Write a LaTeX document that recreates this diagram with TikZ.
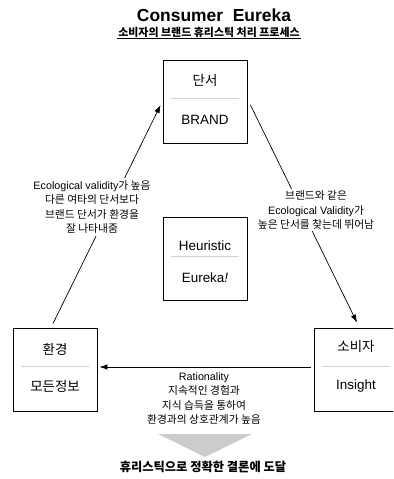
\documentclass[tikz,border=0pt]{standalone}
\usepackage{fontspec}
\setmainfont{Liberation Sans}
\newfontfamily\ko{Noto Sans CJK KR}
\usetikzlibrary{arrows.meta,calc}
\tikzset{
  box/.style={draw, line width=0.9bp, minimum width=84bp, minimum height=83bp, inner sep=0pt, fill=white},
  sepline/.style={draw=gray!35, line width=0.8bp},
  boxtxt/.style={font=\fontsize{13.5}{15}\selectfont, inner sep=0pt},
  lbl/.style={font=\fontsize{10.8}{14.5}\selectfont, align=center, fill=white, inner sep=2bp},
  arr/.style={-{Latex[length=8bp,width=5.5bp]}, line width=0.7bp},
}
\begin{document}
\begin{tikzpicture}[x=1bp,y=-1bp]
\useasboundingbox (0,0) rectangle (393,479);
\clip (0,0) rectangle (393,479);
% title
\node[font=\fontsize{17.5}{19}\selectfont\bfseries, inner sep=0pt] (title) at (214,15) {Consumer\ \ Eureka};
\node[font=\fontsize{11}{12}\selectfont\bfseries, inner sep=1pt] (sub) at (209,32) {\ko 소비자의 브랜드 휴리스틱 처리 프로세스};
\draw[line width=0.6bp] (sub.south west) -- (sub.south east);
% boxes
\node[box] (brand) at (205,101.5) {};
\node[box] (heur) at (205,258.5) {};
\node[box] (env) at (55,369.5) {};
\node[box] (cons) at (356,369.5) {};
% box contents
\node[boxtxt] (brandT) at ($(brand.north)+(0,21)$) {\ko 단서};
\node[boxtxt] (brandB) at ($(brand.north)+(0,60)$) {BRAND};
\draw[sepline] ($(brand.north west)+(8,39)$) -- ($(brand.north east)+(-8,39)$);
\node[boxtxt] (heurT) at ($(heur.north)+(0,29)$) {Heuristic};
\node[boxtxt] (heurB) at ($(heur.north)+(0,61)$) {Eureka\textit{!}};
\draw[sepline] ($(heur.north west)+(8,40)$) -- ($(heur.north east)+(-8,40)$);
\node[boxtxt] (envT) at ($(env.north)+(0,22)$) {\ko 환경};
\node[boxtxt] (envB) at ($(env.north)+(0,59)$) {\ko 모든정보};
\draw[sepline] ($(env.north west)+(8,39)$) -- ($(env.north east)+(-8,39)$);
\node[boxtxt] (consT) at ($(cons.north)+(0,19)$) {\ko 소비자};
\node[boxtxt] (consB) at ($(cons.north)+(0,58)$) {Insight};
\draw[sepline] ($(cons.north west)+(8,39)$) -- ($(cons.north east)+(-8,39)$);
% connectors
\draw[arr] ([xshift=-2bp,yshift=4bp]env.north) -- ([xshift=-2bp,yshift=-3.5bp]brand.west);
\draw[arr] ([xshift=3bp,yshift=-3.5bp]brand.east) -- ([xshift=1bp,yshift=5bp]cons.north);
\draw[arr] ([xshift=-3bp,yshift=2.5bp]cons.west) -- ([xshift=2bp,yshift=2.5bp]env.east);
% labels
\node[lbl] (lblL) at (92,207) {Ecological validity{\ko 가 높음}\\{\ko 다른 여타의 단서보다}\\{\ko 브랜드 단서가 환경을}\\{\ko 잘 나타내줌}};
\node[lbl] (lblR) at (316,210) {{\ko 브랜드와 같은}\\Ecological Validity{\ko 가}\\{\ko 높은 단서를 찾는데 뛰어남}};
\node[lbl, fill=none] (lblB) at (204,398.5) {Rationality\\{\ko 지속적인 경험과}\\{\ko 지식 습득을 통하여}\\{\ko 환경과의 상호관계가 높음}};
% triangle and conclusion
\fill[gray!40] (158,434) -- (252,434) -- (205,457) -- cycle;
\node[font=\fontsize{12.3}{14}\selectfont\bfseries, inner sep=0pt] (concl) at (203,467) {\ko 휴리스틱으로 정확한 결론에 도달};
\end{tikzpicture}
\end{document}
